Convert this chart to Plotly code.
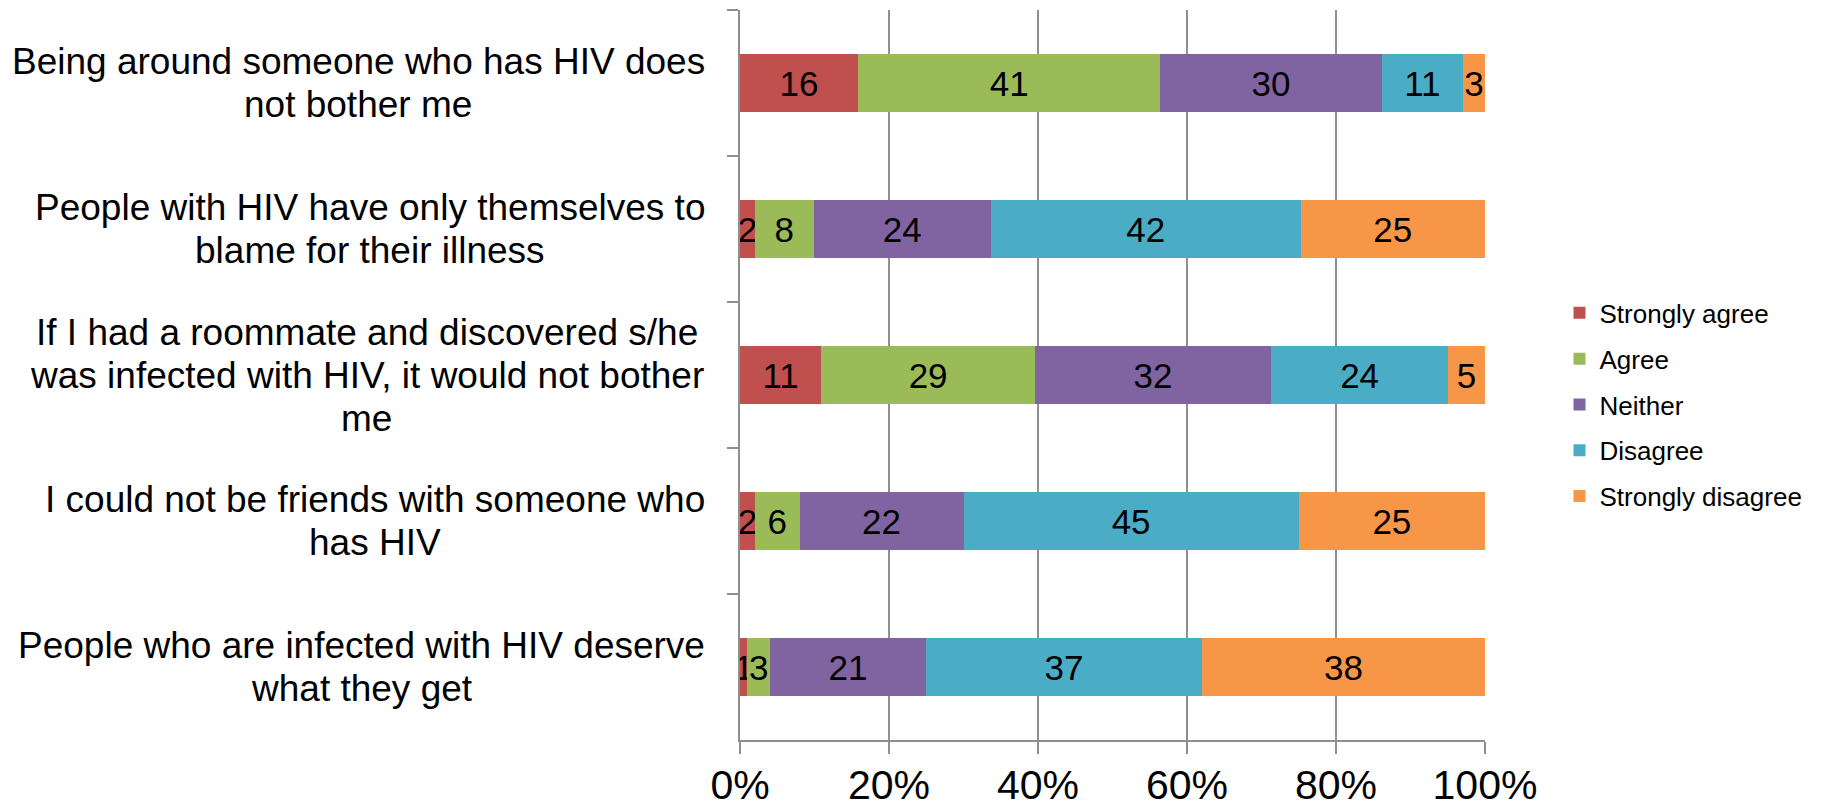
import plotly.graph_objects as go

categories = [
    "Being around someone who has HIV does not bother me",
    "People with HIV have only themselves to blame for their illness",
    "If I had a roommate and discovered s/he was infected with HIV, it would not bother me",
    "I could not be friends with someone who has HIV",
    "People who are infected with HIV deserve what they get",
]
category_lines = [
    ["Being around someone who has HIV does", "not bother me"],
    ["People with HIV have only themselves to", "blame for their illness"],
    ["If I had a roommate and discovered s/he", "was infected with HIV, it would not bother", "me"],
    ["I could not be friends with someone who", "has HIV"],
    ["People who are infected with HIV deserve", "what they get"],
]
series_names = ["Strongly agree", "Agree", "Neither", "Disagree", "Strongly disagree"]
strongly_agree = [16, 2, 11, 2, 1]
agree = [41, 8, 29, 6, 3]
neither = [30, 24, 32, 22, 21]
disagree = [11, 42, 24, 45, 37]
strongly_disagree = [3, 25, 5, 25, 38]
colors = ["#C0504D", "#9BBB59", "#8064A2", "#4BACC6", "#F79646"]
x_ticks = [0, 20, 40, 60, 80, 100]
x_tick_labels = ["0%", "20%", "40%", "60%", "80%", "100%"]

FONT = "Liberation Sans, Arial, Helvetica, sans-serif"
GRAY = "#8f8f8f"
LABEL_SIZE = 37
LINE_GAP = 43          # px between label lines
LABEL_PAD = 35         # px between label block right edge and plot

# Arial / Liberation Sans advance widths (per 1000 em) for estimating label widths
ARIAL_W = {
    "a": 556, "b": 556, "c": 500, "d": 556, "e": 556, "f": 278, "g": 556, "h": 556,
    "i": 222, "j": 222, "k": 500, "l": 222, "m": 833, "n": 556, "o": 556, "p": 556,
    "q": 556, "r": 333, "s": 500, "t": 278, "u": 556, "v": 500, "w": 722, "x": 500,
    "y": 500, "z": 500, "B": 667, "H": 722, "I": 278, "P": 667, "V": 667,
    ",": 278, "/": 278, " ": 278,
}


def text_width(s, size):
    return sum(ARIAL_W.get(c, 556) for c in s) * size / 1000.0


fig = go.Figure()
for name, vals, col in zip(series_names,
                           [strongly_agree, agree, neither, disagree, strongly_disagree],
                           colors):
    fig.add_trace(go.Bar(
        y=categories, x=vals, name=name, orientation="h",
        marker=dict(color=col, line=dict(width=0)),
        text=vals, texttemplate="%{text}", textposition="inside",
        insidetextanchor="middle", textangle=0, constraintext="none",
        textfont=dict(family=FONT, size=35, color="black"),
        legendgroup=name, hoverinfo="skip",
    ))

# Category labels: block right-aligned to the axis, lines centred within the block
for cat, lines in zip(categories, category_lines):
    block_w = max(text_width(s, LABEL_SIZE) for s in lines)
    n = len(lines)
    for i, line in enumerate(lines):
        fig.add_annotation(
            x=0, xref="paper", y=cat, yref="y",
            xshift=-(LABEL_PAD + block_w / 2.0),
            yshift=((n - 1) / 2.0 - i) * LINE_GAP,
            text=line, showarrow=False, xanchor="center", yanchor="middle",
            align="center", font=dict(family=FONT, size=LABEL_SIZE, color="black"),
        )

fig.update_layout(
    width=1825, height=809,
    barmode="stack", barnorm="percent", bargap=0.6,
    paper_bgcolor="white", plot_bgcolor="white",
    margin=dict(l=740, r=340, t=10, b=69, autoexpand=False),
    font=dict(family=FONT, color="black"),
    uniformtext=dict(minsize=35, mode="show"),
    showlegend=True,
    legend=dict(
        x=1.100, xanchor="left", y=0.459, yanchor="middle",
        traceorder="grouped", tracegroupgap=9,
        font=dict(family=FONT, size=26, color="black"),
        bgcolor="rgba(0,0,0,0)",
    ),
    xaxis=dict(
        range=[0, 100], tickmode="array", tickvals=x_ticks, ticktext=x_tick_labels,
        showgrid=True, gridcolor=GRAY, gridwidth=1.5,
        showline=True, linecolor=GRAY, linewidth=2,
        ticks="outside", ticklen=12, tickcolor=GRAY, tickwidth=1.5,
        ticklabelstandoff=-4,
        tickfont=dict(family=FONT, size=41, color="black"),
        zeroline=False, fixedrange=True,
    ),
    yaxis=dict(
        type="category", autorange="reversed",
        showticklabels=False, showgrid=False,
        showline=True, linecolor=GRAY, linewidth=2,
        ticks="outside", tickson="boundaries", ticklen=11, tickcolor=GRAY, tickwidth=1.5,
        fixedrange=True,
    ),
)

fig.write_html(
    "out.html",
    config={"displayModeBar": False},
    post_script="document.body.style.margin='0';document.body.style.overflow='hidden';",
)
